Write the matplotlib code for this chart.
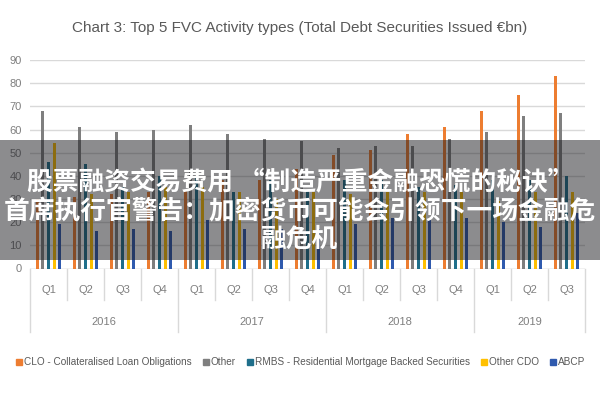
import matplotlib
matplotlib.use("Agg")
import matplotlib.pyplot as plt
import matplotlib.transforms as mtransforms
from matplotlib.patches import Rectangle
from matplotlib.lines import Line2D

quarters = ['Q1', 'Q2', 'Q3', 'Q4', 'Q1', 'Q2', 'Q3', 'Q4',
            'Q1', 'Q2', 'Q3', 'Q4', 'Q1', 'Q2', 'Q3']
years = ['2016', '2017', '2018', '2019']
year_counts = [4, 4, 4, 3]

series_names = ['CLO - Collateralised Loan Obligations', 'Other',
                'RMBS - Residential Mortgage Backed Securities', 'Other CDO', 'ABCP']
clo = [30, 31, 32, 33, 34, 38, 38, 43, 49, 51, 58, 61, 68, 75, 83]
other = [68, 61, 59, 60, 62, 58, 56, 55, 52, 53, 53, 56, 59, 66, 67]
rmbs = [46, 45, 35, 40, 39, 33, 38, 34, 38, 38, 35, 36, 38, 38, 40]
other_cdo = [54, 32, 33, 35, 35, 33, 30, 33, 32, 33, 33, 33, 29, 33, 33]
abcp = [19, 16, 17, 16, 21, 17, 17, 17, 19, 22, 21, 22, 20, 18, 24]

colors = ['#ED7D31', '#7F7F7F', '#1F6F8B', '#FFC000', '#2F5AAE']

title = 'Chart 3: Top 5 FVC Activity types (Total Debt Securities Issued €bn)'
banner_lines = ['股票融资交易费用 “制造严重金融恐慌的秘诀”',
                '首席执行官警告：加密货币可能会引领下一场金融危',
                '融危机']

plt.rcParams['font.family'] = ['Liberation Sans', 'DejaVu Sans']

fig = plt.figure(figsize=(6, 4), dpi=100)
ax = fig.add_axes([30 / 600, 1 - 268.5 / 400, 555 / 600, 208.5 / 400])

data = [clo, other, rmbs, other_cdo, abcp]
n = len(quarters)
x = list(range(n))
offsets = [-0.31, -0.155, 0.0, 0.155, 0.31]
for vals, off, c, name in zip(data, offsets, colors, series_names):
    ax.bar([xi + off for xi in x], vals, width=0.08, color=c, label=name, zorder=3)

ax.set_xlim(-0.5, n - 0.5)
ax.set_ylim(0, 90)
ax.set_yticks(range(0, 91, 10))
ax.tick_params(axis='y', length=0, labelsize=8, labelcolor='#7F7F7F', pad=6)
ax.set_xticks([])
ax.grid(axis='y', color='#D9D9D9', linewidth=1, zorder=0)
for s in ax.spines.values():
    s.set_visible(False)
ax.axhline(0, color='#D9D9D9', linewidth=1, zorder=2)

trans = mtransforms.blended_transform_factory(ax.transData, ax.transAxes)
for i, q in enumerate(quarters):
    ax.text(i, -0.105, q, transform=trans, ha='center', va='center',
            fontsize=8, color='#7F7F7F')

bounds = [-0.5]
for cnt in year_counts:
    bounds.append(bounds[-1] + cnt)
for i in range(n + 1):
    xb = i - 0.5
    y1 = -0.305 if xb in bounds else -0.151
    ax.add_line(Line2D([xb, xb], [0, y1], transform=trans, color='#D9D9D9',
                       linewidth=1, clip_on=False))
for k, yr in enumerate(years):
    xc = (bounds[k] + bounds[k + 1]) / 2
    ax.text(xc, -0.255, yr, transform=trans, ha='center', va='center',
            fontsize=8, color='#7F7F7F')

fig.text(0.5, 1 - 28 / 400, title, ha='center', va='center', fontsize=11,
         color='#595959')

handles = [Line2D([], [], marker='s', linestyle='none', markersize=5,
                  markerfacecolor=c, markeredgecolor=c) for c in colors]
fig.legend(handles, series_names, loc='center', bbox_to_anchor=(0.5, 1 - 362 / 400),
           ncol=5, frameon=False, fontsize=7.2, labelcolor='#595959',
           handletextpad=0.1, columnspacing=1.0, handlelength=0.8)

fig.patches.append(Rectangle((0, 1 - 260 / 400), 1, 120 / 400, transform=fig.transFigure,
                             facecolor=(0.1, 0.1, 0.12), alpha=0.5, zorder=5,
                             edgecolor='none'))
cjk = ['Noto Sans CJK SC', 'DejaVu Sans']
ys = [183, 212, 239]
for line, yy in zip(banner_lines, ys):
    fig.text(0.5, 1 - yy / 400, line, ha='center', va='center', fontsize=18.5,
             color='white', fontweight='bold', family=cjk, zorder=6)

fig.savefig('out.png', dpi=100)
